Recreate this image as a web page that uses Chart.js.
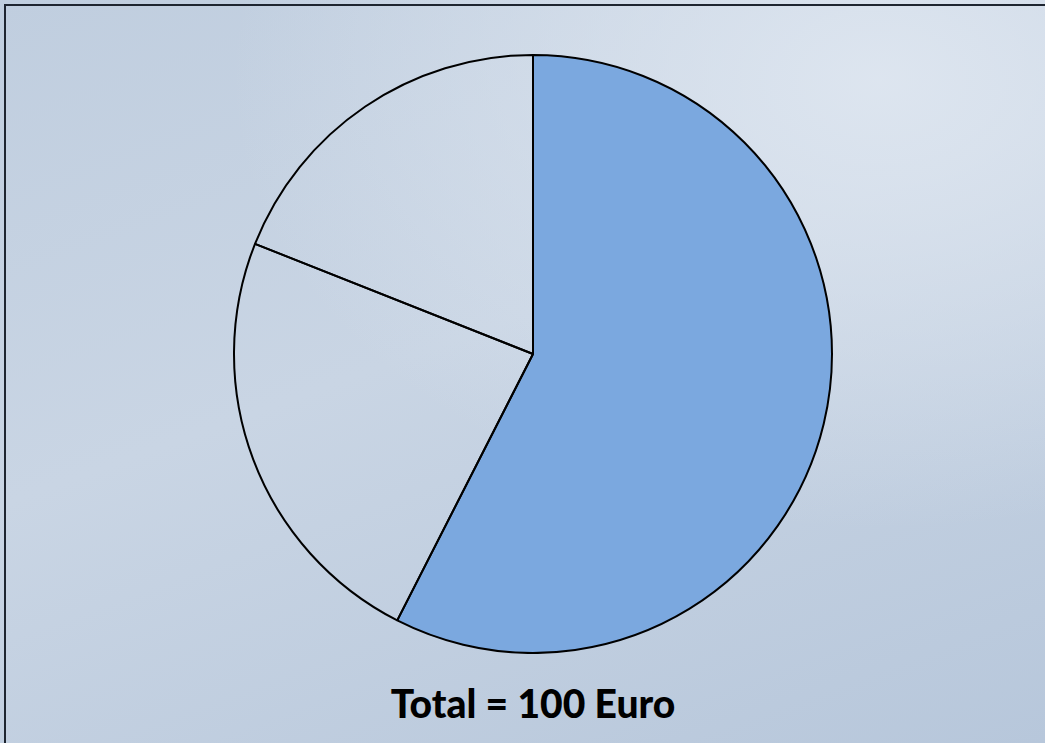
<!DOCTYPE html>
<html>
<head>
<meta charset="utf-8">
<script src="https://cdn.jsdelivr.net/npm/chart.js@4"></script>
<style>
  html, body { margin: 0; padding: 0; }
  body {
    width: 1045px; height: 743px; overflow: hidden; position: relative;
    background:
      radial-gradient(ellipse 650px 450px at 880px 80px, rgba(222,230,240,0.95), rgba(222,230,240,0) 100%),
      linear-gradient(160deg, #c0cedf 0%, #c9d5e4 45%, #b7c7db 100%);
  }
  #frame {
    position: absolute; left: 4px; top: 4px; width: 1100px; height: 800px;
    border-left: 2px solid #1e2530; border-top: 2px solid #1e2530;
  }
  #wrap { position: absolute; left: 233px; top: 54px; width: 600px; height: 600px; }
  #total {
    position: absolute; left: 0; width: 1066px; top: 680px; text-align: center;
    font-family: Lato, "Open Sans", sans-serif; font-weight: 900; font-size: 39px; color: #000;
  }
</style>
</head>
<body>
<div id="frame"></div>
<div id="wrap"><canvas id="pie"></canvas></div>
<div id="total">Total = 100 Euro</div>
<script>
  // Anteile (Summe 100 Euro)
  const labels = ["A", "B", "C"];
  const values = [57.5, 23.5, 19];
  const colors = ["#7ba8df", "rgba(0,0,0,0)", "rgba(0,0,0,0)"];

  const ctx = document.getElementById("pie").getContext("2d");
  new Chart(ctx, {
    type: "pie",
    data: {
      labels: labels,
      datasets: [{
        data: values,
        backgroundColor: colors,
        borderColor: "#000",
        borderWidth: 2
      }]
    },
    options: {
      responsive: true,
      maintainAspectRatio: false,
      animation: false,
      layout: { padding: 0 },
      plugins: {
        legend: { display: false },
        tooltip: { enabled: false }
      }
    }
  });
</script>
</body>
</html>
